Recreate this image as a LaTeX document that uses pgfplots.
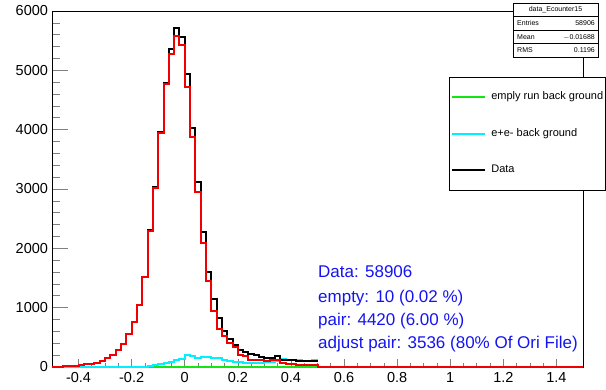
\documentclass[border=0pt]{standalone}
\usepackage{pgfplots}
\pgfplotsset{compat=1.18}
\usepackage{pgfplotstable}
\usepackage{fontspec}
\setmainfont{Liberation Sans}
\definecolor{rgreen}{RGB}{20,230,20}
\definecolor{rcyan}{RGB}{0,240,255}
\definecolor{rblue}{RGB}{20,20,240}
\definecolor{rred}{RGB}{240,0,0}

\pgfplotstableread{
x y
-0.50 5
-0.48 8
-0.46 20
-0.44 22
-0.42 25
-0.40 40
-0.38 45
-0.36 50
-0.34 70
-0.32 100
-0.30 145
-0.28 200
-0.26 290
-0.24 382
-0.22 551
-0.20 764
-0.18 1050
-0.16 1520
-0.14 2300
-0.12 3020
-0.10 3940
-0.08 4765
-0.06 5270
-0.04 5585
-0.02 5430
0.00 4725
0.02 3880
0.04 2950
0.06 2085
0.08 1450
0.10 945
0.12 640
0.14 520
0.16 400
0.18 345
0.20 200
0.22 180
0.24 125
0.26 125
0.28 125
0.30 95
0.32 115
0.34 115
0.36 73
0.38 50
0.40 50
0.42 34
0.44 34
0.46 34
0.48 34
0.50 0
1.50 0
}\redtab

\pgfplotstableread{
x y
-0.50 5
-0.48 8
-0.46 20
-0.44 22
-0.42 25
-0.40 40
-0.38 45
-0.36 50
-0.34 70
-0.32 100
-0.30 145
-0.28 200
-0.26 290
-0.24 382
-0.22 551
-0.20 764
-0.18 1050
-0.16 1520
-0.14 2310
-0.12 3040
-0.10 3960
-0.08 4790
-0.06 5355
-0.04 5720
-0.02 5555
0.00 4940
0.02 4025
0.04 3125
0.06 2270
0.08 1600
0.10 1145
0.12 820
0.14 612
0.16 466
0.18 371
0.20 285
0.22 245
0.24 215
0.26 200
0.28 175
0.30 155
0.32 150
0.34 185
0.36 120
0.38 118
0.40 115
0.42 100
0.44 100
0.46 107
0.48 107
0.50 107
}\datatab

\pgfplotstableread{
x y
-0.50 0
-0.16 0
-0.14 10
-0.12 30
-0.10 50
-0.08 70
-0.06 90
-0.04 115
-0.02 130
0.00 205
0.02 190
0.04 155
0.06 170
0.08 175
0.10 155
0.12 145
0.14 120
0.16 100
0.18 90
0.20 80
0.22 75
0.24 70
0.26 75
0.28 70
0.30 80
0.32 85
0.34 105
0.36 135
0.38 125
0.40 115
0.42 110
0.44 105
0.46 105
0.48 110
0.50 110
}\cyantab

\pgfplotstableread{
x y
-0.50 0
0.50 0
}\greentab

\begin{document}
\begin{tikzpicture}[x=1pt,y=1pt]
\useasboundingbox (0,0) rectangle (606,389);
\begin{axis}[
  at={(52pt,22pt)}, anchor=south west,
  scale only axis, width=531pt, height=356pt,
  xmin=-0.5, xmax=1.5, ymin=0, ymax=6000,
  axis line style={line width=0.8pt},
  xtick={-0.4,-0.2,0,0.2,0.4,0.6,0.8,1,1.2,1.4},
  ytick={0,1000,2000,3000,4000,5000,6000},
  minor x tick num=3, minor y tick num=4,
  tick align=inside, xtick pos=left, ytick pos=left,
  xtick style={/pgfplots/major tick length=8pt,/pgfplots/minor tick length=4pt, line width=0.7pt},
  ytick style={/pgfplots/major tick length=16pt,/pgfplots/minor tick length=8pt, line width=0.7pt},
  tick label style={font=\fontsize{14.5}{16}\selectfont},
  xticklabel style={yshift=-1.5pt},
  yticklabel style={xshift=-0.5pt},
  /pgf/number format/assume math mode=true,
  /pgf/number format/1000 sep={},
  scaled y ticks=false,
  legend style={at={(0.7476,0.8146)}, anchor=north west, draw=black, line width=0.7pt,
    fill=white, font=\fontsize{11}{13}\selectfont, row sep=26pt, inner xsep=2pt, inner ysep=14.5pt,
    column sep=5pt,
    nodes={inner xsep=0pt, inner ysep=0pt, text height=8pt, text depth=2.5pt}},
  legend cell align=left,
  legend image code/.code={\path (-3pt,0pt) -- (30pt,0pt); \draw[#1, line width=2pt] (0pt,0pt) -- (30pt,0pt);},
]
\addplot[const plot, rgreen, line width=2pt] table[x=x,y=y] {\greentab};
\addlegendentry{emply run back ground}
\addplot[const plot, rcyan, line width=2pt] table[x=x,y=y] {\cyantab};
\addlegendentry{e+e- back ground}
\addplot[const plot, black, line width=2pt] table[x=x,y=y] {\datatab};
\addlegendentry{Data}
\addplot[const plot, rred, line width=2pt, forget plot] table[x=x,y=y] {\redtab};
\end{axis}
% stats box
\begin{scope}[font=\fontsize{7}{8}\selectfont]
\draw[line width=0.6pt, fill=white] (513,332) rectangle (598,386);
\draw[line width=0.4pt] (513,372.5) -- (598,372.5);
\draw[line width=0.4pt] (513,359) -- (598,359);
\draw[line width=0.4pt] (513,345.5) -- (598,345.5);
\node[anchor=base] at (555.5,377) {data\_Ecounter15};
\node[anchor=base west, inner sep=0pt] at (517,363) {Entries};
\node[anchor=base east, inner sep=0pt] at (595,363) {58906};
\node[anchor=base west, inner sep=0pt] at (517,349.5) {Mean};
\node[anchor=base east, inner sep=0pt] at (595,349.5) {$-$0.01688};
\node[anchor=base west, inner sep=0pt] at (517,336) {RMS};
\node[anchor=base east, inner sep=0pt] at (595,336) {0.1196};
\end{scope}
% annotation
\begin{scope}[font=\fontsize{17}{20}\selectfont, text=rblue]
\node[anchor=base west, inner sep=0pt] at (318,111) {Data: 58906};
\node[anchor=base west, inner sep=0pt] at (318,87) {empty: 10 (0.02 \%)};
\node[anchor=base west, inner sep=0pt] at (318,64) {pair: 4420 (6.00 \%)};
\node[anchor=base west, inner sep=0pt] at (318,41) {adjust pair: 3536 (80\% Of Ori File)};
\end{scope}
\end{tikzpicture}
\end{document}
